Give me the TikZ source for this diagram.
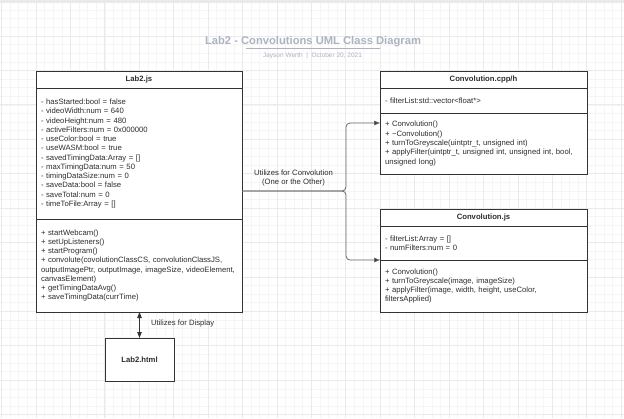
\documentclass[tikz,border=0pt]{standalone}
\usepackage{fontspec}
\setmainfont{Liberation Sans}
\usetikzlibrary{arrows.meta,positioning}
\definecolor{linegray}{RGB}{51,51,51}
\definecolor{textgray}{RGB}{45,45,45}
\definecolor{flowgray}{RGB}{105,105,105}
\definecolor{titlegray}{RGB}{172,178,192}
\definecolor{subgray}{RGB}{178,178,178}
\definecolor{gridminor}{RGB}{245,245,245}
\definecolor{gridmajor}{RGB}{234,234,234}

\begin{document}
\begin{tikzpicture}[x=1pt,y=-1pt,
    every node/.style={font=\fontsize{7.7}{9.27}\selectfont, text=textgray, inner sep=0pt, outer sep=0pt},
    classhead/.style={draw=linegray, fill=white, line width=0.9pt, minimum width=#1, minimum height=17pt,
      font=\fontsize{7.7}{9.27}\selectfont\bfseries},
    classpart/.style={draw=linegray, fill=white, line width=0.9pt, inner xsep=5pt, align=left, text width=#1},
    flow/.style={draw=flowgray, line width=0.8pt, -{Triangle[length=6pt,width=4.5pt,fill=linegray]}},
    both/.style={draw=linegray, line width=0.8pt, {Triangle[length=6pt,width=4.5pt]}-{Triangle[length=6pt,width=4.5pt]}}]
  \useasboundingbox (0,0) rectangle (624,418);
  \fill[white] (0,0) rectangle (624,418);
  \foreach \i in {0,...,72} \draw[gridminor, line width=0.6pt] (1.58+\i*8.605,0) -- ++(0,418);
  \foreach \i in {0,...,48} \draw[gridminor, line width=0.6pt] (0,1.58+\i*8.605) -- ++(624,0);
  \foreach \i in {0,...,18} \draw[gridmajor, line width=0.7pt] (1.58+\i*34.42,0) -- ++(0,418);
  \foreach \i in {0,...,12} \draw[gridmajor, line width=0.7pt] (0,1.58+\i*34.42) -- ++(624,0);
  \fill[gridmajor] (0,0) rectangle (624,2.5);

  % title
  \node[font=\fontsize{11.2}{13}\selectfont\bfseries, text=titlegray, anchor=base] (title) at (313,44.3) {Lab2 - Convolutions UML Class Diagram};
  \draw[titlegray, line width=1.4pt] (246,48.5) -- (380,48.5);
  \node[font=\fontsize{6.5}{8}\selectfont, text=subgray, anchor=base] (author) at (312.5,57.6) {Jayson Werth \ | \ October 20, 2021};

  % Lab2.js
  \node[classhead=206pt] (lab2head) at (139,79.5) {Lab2.js};
  \node[classpart=196pt, minimum height=131pt, below=0pt of lab2head] (lab2attr) {%
    - hasStarted:bool = false\\
    - videoWidth:num = 640\\
    - videoHeight:num = 480\\
    - activeFilters:num = 0x000000\\
    - useColor:bool = true\\
    - useWASM:bool = true\\
    - savedTimingData:Array = []\\
    - maxTimingData:num = 50\\
    - timingDataSize:num = 0\\
    - saveData:bool = false\\
    - saveTotal:num = 0\\
    - timeToFile:Array = []};
  \node[classpart=196pt, minimum height=93pt, below=0pt of lab2attr] (lab2meth) {%
    + startWebcam()\\
    + setUpListeners()\\
    + startProgram()\\
    + convolute(covolutionClassCS, convolutionClassJS,\\
    outputImagePtr, outputImage, imageSize, videoElement,\\
    canvasElement)\\
    + getTimingDataAvg()\\
    + saveTimingData(currTime)};

  % Convolution.cpp/h
  \node[classhead=207pt] (cpphead) at (483.5,79.5) {Convolution.cpp/h};
  \node[classpart=197pt, minimum height=25pt, below=0pt of cpphead] (cppattr) {%
    - filterList:std::vector<float*>};
  \node[classpart=197pt, minimum height=61pt, below=0pt of cppattr] (cppmeth) {%
    + Convolution()\\
    + \char`\~Convolution()\\
    + turnToGreyscale(uintptr\_t, unsigned int)\\
    + applyFilter(uintptr\_t, unsigned int, unsigned int, bool,\\
    unsigned long)};

  % Convolution.js
  \node[classhead=207pt] (jshead) at (483.5,217.5) {Convolution.js};
  \node[classpart=197pt, minimum height=34pt, below=0pt of jshead] (jsattr) {%
    - filterList:Array = []\\
    - numFilters:num = 0};
  \node[classpart=197pt, minimum height=52pt, below=0pt of jsattr] (jsmeth) {%
    + Convolution()\\
    + turnToGreyscale(image, imageSize)\\
    + applyFilter(image, width, height, useColor,\\
    filtersApplied)};

  % Lab2.html
  \node[draw=linegray, fill=white, line width=0.9pt, minimum width=69pt, minimum height=43pt,
    font=\fontsize{7.7}{9.27}\selectfont\bfseries] (lab2html) at (139.5,359.5) {Lab2.html};

  % connectors
  \coordinate (fork) at (346,191);
  \coordinate (cpptip) at ([yshift=-10pt]cppmeth.north west);
  \draw[flow, rounded corners=4pt] (lab2attr.east |- fork) -| (fork |- cpptip) -- (cpptip);
  \draw[flow, rounded corners=4pt] (lab2attr.east |- fork) -| (fork |- jsmeth.north west) -- (jsmeth.north west);
  \node[align=center] (convlabel) at (293.5,178) {Utilizes for Convolution\\(One or the Other)};
  \draw[both] (lab2meth.south -| lab2html.north) -- (lab2html.north);
  \node[anchor=west] (displabel) at (151,324) {Utilizes for Display};
\end{tikzpicture}
\end{document}
